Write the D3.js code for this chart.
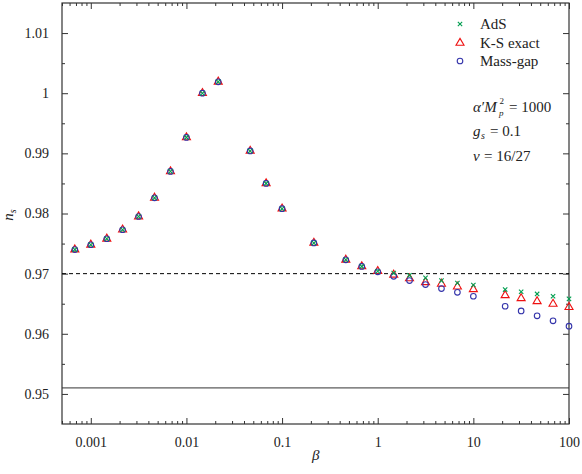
<!DOCTYPE html>
<meta charset="utf-8">
<script src="https://d3js.org/d3.v7.min.js"></script>
<style>
  body { margin: 0; background: #fff; }
  text { font-family: "Liberation Serif", "DejaVu Serif", serif; }
</style>
<div id="my_dataviz"></div>
<script>
// beta values (log spaced)
let beta = [0.000681, 0.001, 0.00147, 0.00215, 0.00316, 0.00464, 0.00681, 0.01, 0.0147, 0.0215,
            0.0464, 0.0681, 0.1, 0.215, 0.464, 0.681, 1, 1.47, 2.15, 3.16, 4.64, 6.81, 10,
            21.5, 31.6, 46.4, 68.1, 100];
// n_s for each model
let massGap = [0.9740, 0.9748, 0.9758, 0.9773, 0.9795, 0.9826, 0.9870, 0.99265, 1.0000, 1.0019,
               0.9904, 0.9850, 0.9808, 0.9751, 0.9723, 0.9712, 0.9703, 0.96955, 0.96884, 0.96818, 0.96751, 0.9669, 0.96624,
               0.96458, 0.9638, 0.96299, 0.96216, 0.96126];
let ksExact = [0.9740, 0.9748, 0.9758, 0.9773, 0.9795, 0.9826, 0.9870, 0.99265, 1.0000, 1.0019,
               0.9904, 0.9850, 0.9808, 0.9751, 0.9723, 0.9712, 0.9704, 0.9698, 0.9692, 0.96856, 0.9683, 0.96784, 0.9674,
               0.9664, 0.9659, 0.9654, 0.96497, 0.96442];
let ads = [0.9740, 0.9748, 0.9758, 0.9773, 0.9795, 0.9826, 0.9870, 0.99265, 1.0000, 1.0019,
           0.9904, 0.9850, 0.9808, 0.9751, 0.9723, 0.9712, 0.9704, 0.9701, 0.96972, 0.9693, 0.96884, 0.96845, 0.96812,
           0.96735, 0.967, 0.96663, 0.96624, 0.9658];
let xTicks = [0.001, 0.01, 0.1, 1, 10, 100];
let xTickLabels = ["0.001", "0.01", "0.1", "1", "10", "100"];
let yTicks = [0.95, 0.96, 0.97, 0.98, 0.99, 1, 1.01];
let yTickLabels = ["0.95", "0.96", "0.97", "0.98", "0.99", "1", "1.01"];
let refLines = [0.97, 0.951];

let margin = {top: 3, right: 13, bottom: 50, left: 62},
    width = 582 - margin.left - margin.right,
    height = 474 - margin.top - margin.bottom;

let svg = d3.select("#my_dataviz")
  .append("svg")
  .attr("width", 582)
  .attr("height", 474)
  .append("g")
  .attr("transform", "translate(" + margin.left + "," + margin.top + ")");

let x = d3.scaleLog().domain([0.0005, 100]).range([0, width]);
let y = d3.scaleLinear().domain([0.945, 1.015]).range([height, 0]);

let axisColor = "#333";

// minor ticks on x
let xMinor = [];
[0.0001, 0.001, 0.01, 0.1, 1, 10].forEach(function(d) {
  for (let k = 2; k <= 9; k++) {
    let v = d * k;
    if (v >= 0.0005 && v <= 100) xMinor.push(v);
  }
});
let yMinor = d3.range(0.955, 1.015, 0.01);

function styleAxis(g) {
  g.select(".domain").remove();
  g.selectAll("line").attr("stroke", axisColor);
  g.selectAll("text").attr("fill", "#222").style("font-size", "14px");
}

// bottom
svg.append("g").attr("transform", "translate(0," + height + ")")
  .call(d3.axisBottom(x).tickValues(xTicks).tickSizeInner(-6).tickSizeOuter(0).tickPadding(13)
    .tickFormat(function(d, i) { return xTickLabels[i]; }))
  .call(styleAxis);
svg.append("g").attr("transform", "translate(0," + height + ")")
  .call(d3.axisBottom(x).tickValues(xMinor).tickSizeInner(-3).tickSizeOuter(0).tickFormat(""))
  .call(styleAxis);
// top
svg.append("g")
  .call(d3.axisTop(x).tickValues(xTicks).tickSizeInner(-6).tickSizeOuter(0).tickFormat(""))
  .call(styleAxis);
svg.append("g")
  .call(d3.axisTop(x).tickValues(xMinor).tickSizeInner(-3).tickSizeOuter(0).tickFormat(""))
  .call(styleAxis);
// left
svg.append("g")
  .call(d3.axisLeft(y).tickValues(yTicks).tickSizeInner(-6).tickSizeOuter(0).tickPadding(13)
    .tickFormat(function(d, i) { return yTickLabels[i]; }))
  .call(styleAxis);
svg.append("g")
  .call(d3.axisLeft(y).tickValues(yMinor).tickSizeInner(-3).tickSizeOuter(0).tickFormat(""))
  .call(styleAxis);
// right
svg.append("g").attr("transform", "translate(" + width + ",0)")
  .call(d3.axisRight(y).tickValues(yTicks).tickSizeInner(-6).tickSizeOuter(0).tickFormat(""))
  .call(styleAxis);
svg.append("g").attr("transform", "translate(" + width + ",0)")
  .call(d3.axisRight(y).tickValues(yMinor).tickSizeInner(-3).tickSizeOuter(0).tickFormat(""))
  .call(styleAxis);

// frame
svg.append("rect")
  .attr("x", 0).attr("y", 0).attr("width", width).attr("height", height)
  .attr("fill", "none").attr("stroke", axisColor).attr("stroke-width", 1.2);

// reference lines
svg.append("line")
  .attr("x1", 0).attr("x2", width)
  .attr("y1", y(refLines[0])).attr("y2", y(refLines[0]))
  .attr("stroke", "#000").attr("stroke-width", 1).attr("stroke-dasharray", "4,3");
svg.append("line")
  .attr("x1", 0).attr("x2", width)
  .attr("y1", y(refLines[1])).attr("y2", y(refLines[1]))
  .attr("stroke", "#333").attr("stroke-width", 1);

let red = "#ee1111", blue = "#3333aa", green = "#009e50";
let tri = d3.symbol().type(d3.symbolTriangle).size(28);
let cross = d3.symbol().type(d3.symbolX).size(14);

// K-S exact (triangles)
svg.append("g").selectAll("path")
  .data(beta.map(function(b, i) { return [b, ksExact[i]]; }))
  .join("path")
  .attr("d", tri)
  .attr("transform", function(d) { return "translate(" + x(d[0]) + "," + y(d[1]) + ")"; })
  .attr("fill", "none").attr("stroke", red).attr("stroke-width", 1.1);

// Mass-gap (circles)
svg.append("g").selectAll("circle")
  .data(beta.map(function(b, i) { return [b, massGap[i]]; }))
  .join("circle")
  .attr("cx", function(d) { return x(d[0]); })
  .attr("cy", function(d) { return y(d[1]); })
  .attr("r", 2.8)
  .attr("fill", "none").attr("stroke", blue).attr("stroke-width", 1.1);

// AdS (crosses)
svg.append("g").selectAll("path")
  .data(beta.map(function(b, i) { return [b, ads[i]]; }))
  .join("path")
  .attr("d", cross)
  .attr("transform", function(d) { return "translate(" + x(d[0]) + "," + y(d[1]) + ")"; })
  .attr("fill", "none").attr("stroke", green).attr("stroke-width", 1.1);

// legend
let lx = 460 - margin.left, tx = 480 - margin.left;
svg.append("path").attr("d", cross).attr("transform", "translate(" + lx + "," + (24 - margin.top) + ")")
  .attr("fill", "none").attr("stroke", green).attr("stroke-width", 1.1);
svg.append("path").attr("d", tri).attr("transform", "translate(" + lx + "," + (43 - margin.top) + ")")
  .attr("fill", "none").attr("stroke", red).attr("stroke-width", 1.1);
svg.append("circle").attr("cx", lx).attr("cy", 61 - margin.top).attr("r", 2.8)
  .attr("fill", "none").attr("stroke", blue).attr("stroke-width", 1.1);
let legText = ["AdS", "K-S exact", "Mass-gap"];
legText.forEach(function(t, i) {
  svg.append("text").attr("x", tx).attr("y", 29 - margin.top + i * 18.5)
    .style("font-size", "15px").attr("fill", "#222").text(t);
});

// parameters
let px = 473 - margin.left;
function addText(xp, yp, size, italic, str) {
  return svg.append("text").attr("x", xp).attr("y", yp - margin.top)
    .style("font-size", size + "px").style("font-style", italic ? "italic" : "normal")
    .attr("fill", "#222").text(str);
}
addText(px, 112, 15, true, "α′M");
addText(px + 26.5, 104, 9, false, "2");
addText(px + 26, 116, 9, true, "p");
addText(px + 36, 112, 15, false, "= 1000");

addText(px, 136, 15, true, "g");
addText(px + 8, 139, 10, true, "s");
addText(px + 17, 136, 15, false, "= 0.1");

addText(px, 161, 15, true, "v");
addText(px + 11, 161, 15, false, "= 16/27");

// axis labels
svg.append("text")
  .attr("x", x(1) - 62).attr("y", 460 - margin.top)
  .style("text-anchor", "middle").style("font-size", "15px").style("font-style", "italic")
  .attr("fill", "#222").text("β");

let yl = svg.append("text")
  .attr("transform", "translate(" + (13 - margin.left) + "," + (215 - margin.top) + ") rotate(-90)")
  .style("text-anchor", "middle").style("font-size", "15px").attr("fill", "#222");
yl.append("tspan").style("font-style", "italic").text("n");
yl.append("tspan").attr("dy", 3).style("font-size", "10px").style("font-style", "italic").text("s");
</script>
